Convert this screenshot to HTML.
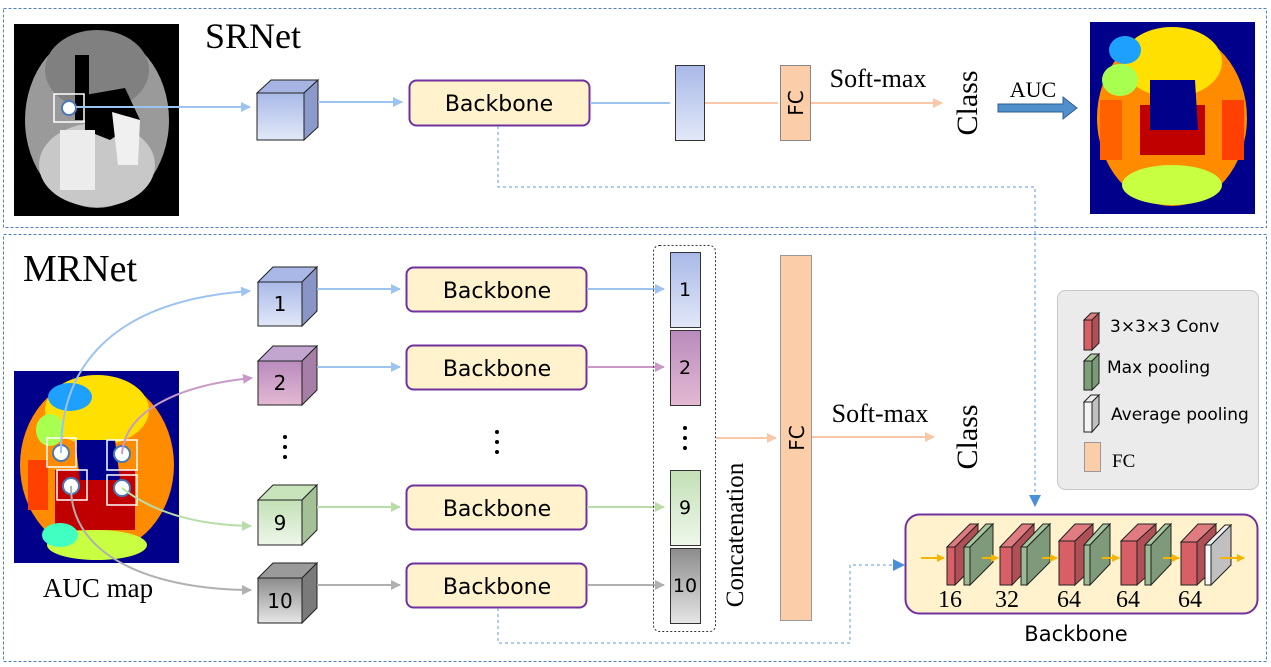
<!DOCTYPE html>
<html><head><meta charset="utf-8"><style>
html,body{margin:0;padding:0;background:#fff}
svg{display:block}
.ser{font-family:"Liberation Serif",serif}
.san{font-family:"DejaVu Sans","Liberation Sans",sans-serif}
</style></head><body>
<svg width="1271" height="667" viewBox="0 0 1271 667" xmlns="http://www.w3.org/2000/svg">
<defs>
<linearGradient id="gb" x1="0" y1="0" x2="0" y2="1"><stop offset="0" stop-color="#a9b9e8"/><stop offset="1" stop-color="#e2e8f8"/></linearGradient>
<linearGradient id="gp" x1="0" y1="0" x2="0" y2="1"><stop offset="0" stop-color="#b98bbd"/><stop offset="1" stop-color="#e3b9d3"/></linearGradient>
<linearGradient id="gg" x1="0" y1="0" x2="0" y2="1"><stop offset="0" stop-color="#c3e0b6"/><stop offset="1" stop-color="#eef7ea"/></linearGradient>
<linearGradient id="gk" x1="0" y1="0" x2="0" y2="1"><stop offset="0" stop-color="#8c8c8c"/><stop offset="1" stop-color="#e6e6e6"/></linearGradient>
<marker id="ab" markerWidth="10" markerHeight="10" refX="9" refY="5" orient="auto" markerUnits="userSpaceOnUse"><path d="M0,0 L10,5 L0,10z" fill="#9dc3f0"/></marker>
<marker id="ap" markerWidth="10" markerHeight="10" refX="9" refY="5" orient="auto" markerUnits="userSpaceOnUse"><path d="M0,0 L10,5 L0,10z" fill="#c99ac8"/></marker>
<marker id="ag" markerWidth="10" markerHeight="10" refX="9" refY="5" orient="auto" markerUnits="userSpaceOnUse"><path d="M0,0 L10,5 L0,10z" fill="#b9dca8"/></marker>
<marker id="ak" markerWidth="10" markerHeight="10" refX="9" refY="5" orient="auto" markerUnits="userSpaceOnUse"><path d="M0,0 L10,5 L0,10z" fill="#b0b0b0"/></marker>
<marker id="ao" markerWidth="10" markerHeight="10" refX="9" refY="5" orient="auto" markerUnits="userSpaceOnUse"><path d="M0,0 L10,5 L0,10z" fill="#f8c8a8"/></marker>
<marker id="ad" markerWidth="12" markerHeight="12" refX="10" refY="6" orient="auto" markerUnits="userSpaceOnUse"><path d="M0,0 L12,6 L0,12z" fill="#4a90d9"/></marker>
<marker id="ay" markerWidth="8" markerHeight="8" refX="7" refY="4" orient="auto" markerUnits="userSpaceOnUse"><path d="M0,0 L8,4 L0,8z" fill="#f5b400"/></marker>
</defs>

<rect x="3.5" y="8.5" width="1263" height="219" fill="none" stroke="#4f81bd" stroke-dasharray="3,2"/>
<rect x="3.5" y="234.5" width="1263" height="427" fill="none" stroke="#4f81bd" stroke-dasharray="3,2"/>

<!-- grayscale brain -->
<rect x="14" y="24" width="165" height="192" fill="#000"/>
<ellipse cx="97" cy="120" rx="72" ry="88" fill="#9a9a9a"/>
<ellipse cx="97" cy="70" rx="52" ry="40" fill="#808080"/>
<ellipse cx="97" cy="165" rx="58" ry="42" fill="#c8c8c8"/>
<rect x="75" y="55" width="14" height="65" fill="#000"/>
<path d="M85,95 L125,88 L140,120 L110,140 L85,130z" fill="#000"/>
<path d="M112,112 L140,120 L138,165 L118,165z" fill="#f0f0f0"/>
<rect x="60" y="130" width="35" height="60" fill="#ececec"/>
<rect x="54" y="94" width="30" height="28" fill="none" stroke="#fff" stroke-width="1.5"/>
<circle cx="69" cy="108" r="7" fill="#fff" stroke="#4a7ab5" stroke-width="2"/>

<text x="205" y="48" class="ser" font-size="36">SRNet</text>

<g stroke="#222" stroke-width="1">
<path d="M257,93 L271,80 L318,80 L304,93z" fill="#a5b4e2"/>
<path d="M304,93 L318,80 L318,127 L304,140z" fill="#8c9acb"/>
<rect x="257" y="93" width="47" height="47" fill="url(#gb)"/>
</g>
<line x1="76" y1="107" x2="250" y2="107" stroke="#9dc3f0" stroke-width="2" marker-end="url(#ab)"/>
<line x1="318" y1="102" x2="402" y2="102" stroke="#9dc3f0" stroke-width="2" marker-end="url(#ab)"/>
<rect x="409.5" y="80.5" width="180" height="45" rx="7" fill="#fff2cc" stroke="#7030a0" stroke-width="2"/>
<text x="499" y="111" text-anchor="middle" class="san" font-size="22">Backbone</text>
<line x1="590" y1="103" x2="670" y2="103" stroke="#9dc3f0" stroke-width="2"/>
<rect x="675.5" y="65.5" width="29" height="75" fill="url(#gb)" stroke="#333"/>
<line x1="705" y1="103" x2="778" y2="103" stroke="#f8c8a8" stroke-width="2"/>
<rect x="780.5" y="65.5" width="30" height="75" fill="#fbcda8" stroke="#888"/>
<text transform="translate(803,103) rotate(-90)" text-anchor="middle" class="san" font-size="20">FC</text>
<text x="878" y="87" text-anchor="middle" class="ser" font-size="26">Soft-max</text>
<line x1="811" y1="103" x2="942" y2="103" stroke="#f8c8a8" stroke-width="2" marker-end="url(#ao)"/>
<text transform="translate(977,103) rotate(-90)" text-anchor="middle" class="ser" font-size="30">Class</text>
<text x="1033" y="97" text-anchor="middle" class="ser" font-size="22">AUC</text>
<path d="M998,104 L1063,104 L1063,97 L1077,108 L1063,119 L1063,112 L998,112z" fill="#4f8fcc" stroke="#2e5f93"/>

<!-- color brain top -->
<g>
<rect x="1090" y="22" width="165" height="192" fill="#00008b"/>
<ellipse cx="1172" cy="118" rx="75" ry="88" fill="#ff8c00"/>
<ellipse cx="1172" cy="62" rx="50" ry="35" fill="#ffe000"/>
<ellipse cx="1125" cy="50" rx="16" ry="14" fill="#1ea0ff"/>
<ellipse cx="1120" cy="80" rx="18" ry="16" fill="#a8ff50"/>
<rect x="1140" y="105" width="65" height="50" fill="#c00000"/>
<path d="M1150,80 L1195,80 L1198,130 L1150,130z" fill="#00008b"/>
<ellipse cx="1172" cy="185" rx="50" ry="20" fill="#c8ff40"/>
<rect x="1100" y="100" width="22" height="60" fill="#ff6000"/>
<rect x="1222" y="100" width="22" height="60" fill="#ff4000"/>
</g>

<path d="M498,126 L498,187 L1035,187 L1035,505" fill="none" stroke="#5b9bd5" stroke-dasharray="3,3" stroke-width="1" marker-end="url(#ad)"/>

<text x="23" y="281" class="ser" font-size="38">MRNet</text>

<!-- color brain bottom -->
<g>
<rect x="14" y="371" width="165" height="192" fill="#00008b"/>
<ellipse cx="97" cy="465" rx="77" ry="88" fill="#ff8c00"/>
<ellipse cx="97" cy="410" rx="52" ry="35" fill="#ffe000"/>
<ellipse cx="70" cy="397" rx="22" ry="14" fill="#1ea0ff"/>
<ellipse cx="50" cy="430" rx="14" ry="16" fill="#a8ff50"/>
<rect x="55" y="470" width="80" height="60" fill="#c00000"/>
<path d="M75,440 L115,440 L120,480 L80,480z" fill="#00008b"/>
<ellipse cx="97" cy="545" rx="50" ry="15" fill="#c8ff40"/>
<ellipse cx="60" cy="535" rx="18" ry="12" fill="#40ffc0"/>
<rect x="28" y="460" width="20" height="50" fill="#ff4000"/>
<g fill="none" stroke="#fff" stroke-width="1.5">
<rect x="47" y="438" width="29" height="29"/><rect x="107" y="440" width="30" height="30"/>
<rect x="57" y="470" width="30" height="30"/><rect x="107" y="475" width="30" height="30"/>
</g>
<g fill="#fff" stroke="#4a7ab5" stroke-width="2">
<circle cx="61" cy="453" r="8"/><circle cx="122" cy="454" r="8"/>
<circle cx="71" cy="486" r="8"/><circle cx="122" cy="488" r="8"/>
</g>
</g>
<text x="98" y="597" text-anchor="middle" class="ser" font-size="27">AUC map</text>

<path d="M61,453 C60,360 120,300 250,291" fill="none" stroke="#9dc3f0" stroke-width="2" marker-end="url(#ab)"/>
<path d="M122,454 C125,410 180,385 252,378" fill="none" stroke="#c99ac8" stroke-width="2" marker-end="url(#ap)"/>
<path d="M122,488 C150,510 190,525 251,526" fill="none" stroke="#b9dca8" stroke-width="2" marker-end="url(#ag)"/>
<path d="M71,486 C70,560 160,590 251,590" fill="none" stroke="#b0b0b0" stroke-width="2" marker-end="url(#ak)"/>

<g stroke="#222" stroke-width="1">
<path d="M258,282 L273,267 L317,267 L302,282z" fill="#a9b8e6"/><path d="M302,282 L317,267 L317,311 L302,326z" fill="#8895c6"/><rect x="258" y="282" width="44" height="44" fill="url(#gb)"/>
<path d="M258,361 L273,346 L317,346 L302,361z" fill="#c2a6d0"/><path d="M302,361 L317,346 L317,390 L302,405z" fill="#a57fa5"/><rect x="258" y="361" width="44" height="44" fill="url(#gp)"/>
<path d="M258,500 L273,485 L317,485 L302,500z" fill="#c8e4bb"/><path d="M302,500 L317,485 L317,530 L302,545z" fill="#a4c096"/><rect x="258" y="500" width="44" height="45" fill="url(#gg)"/>
<path d="M258,578 L273,563 L317,563 L302,578z" fill="#9a9a9a"/><path d="M302,578 L317,563 L317,608 L302,623z" fill="#7a7a7a"/><rect x="258" y="578" width="44" height="45" fill="url(#gk)"/>
</g>
<g class="san" font-size="20" text-anchor="middle">
<text x="280" y="311">1</text><text x="280" y="390">2</text><text x="280" y="530">9</text><text x="280" y="608">10</text>
</g>
<g fill="#000"><circle cx="285" cy="437" r="2"/><circle cx="285" cy="447" r="2"/><circle cx="285" cy="457" r="2"/>
<circle cx="497" cy="432" r="2"/><circle cx="497" cy="442" r="2"/><circle cx="497" cy="452" r="2"/>
<circle cx="685" cy="428" r="2"/><circle cx="685" cy="438" r="2"/><circle cx="685" cy="448" r="2"/></g>

<line x1="317" y1="289" x2="400" y2="289" stroke="#9dc3f0" stroke-width="2" marker-end="url(#ab)"/>
<line x1="317" y1="367" x2="400" y2="367" stroke="#9dc3f0" stroke-width="2" marker-end="url(#ab)"/>
<line x1="317" y1="507" x2="400" y2="507" stroke="#b9dca8" stroke-width="2" marker-end="url(#ag)"/>
<line x1="317" y1="585" x2="400" y2="585" stroke="#b0b0b0" stroke-width="2" marker-end="url(#ak)"/>

<g fill="#fff2cc" stroke="#7030a0" stroke-width="2">
<rect x="406.5" y="267.5" width="180" height="44" rx="7"/>
<rect x="406.5" y="345.5" width="180" height="44" rx="7"/>
<rect x="406.5" y="485.5" width="180" height="44" rx="7"/>
<rect x="406.5" y="563.5" width="180" height="44" rx="7"/>
</g>
<g class="san" font-size="22" text-anchor="middle">
<text x="497" y="298">Backbone</text><text x="497" y="376">Backbone</text><text x="497" y="516">Backbone</text><text x="497" y="594">Backbone</text>
</g>

<line x1="587" y1="289" x2="664" y2="289" stroke="#9dc3f0" stroke-width="2" marker-end="url(#ab)"/>
<line x1="587" y1="367" x2="664" y2="367" stroke="#c99ac8" stroke-width="2" marker-end="url(#ap)"/>
<line x1="587" y1="507" x2="664" y2="507" stroke="#b9dca8" stroke-width="2" marker-end="url(#ag)"/>
<line x1="587" y1="585" x2="664" y2="585" stroke="#b0b0b0" stroke-width="2" marker-end="url(#ak)"/>

<rect x="653.5" y="245.5" width="62" height="386" rx="6" fill="none" stroke="#333" stroke-dasharray="2,2"/>
<g stroke="#333">
<rect x="670.5" y="252.5" width="30" height="75" fill="url(#gb)"/>
<rect x="670.5" y="330.5" width="30" height="75" fill="url(#gp)"/>
<rect x="670.5" y="470.5" width="30" height="75" fill="url(#gg)"/>
<rect x="670.5" y="548.5" width="30" height="75" fill="url(#gk)"/>
</g>
<g class="san" font-size="19" text-anchor="middle">
<text x="685" y="296">1</text><text x="685" y="374">2</text><text x="685" y="514">9</text><text x="685" y="592">10</text>
</g>
<text transform="translate(743,535) rotate(-90)" text-anchor="middle" class="ser" font-size="25">Concatenation</text>
<line x1="716" y1="438" x2="776" y2="438" stroke="#f8c8a8" stroke-width="2" marker-end="url(#ao)"/>
<rect x="780.5" y="255.5" width="31" height="365" fill="#fbcda8" stroke="#999"/>
<text transform="translate(804,438) rotate(-90)" text-anchor="middle" class="san" font-size="20">FC</text>
<text x="880" y="422" text-anchor="middle" class="ser" font-size="26">Soft-max</text>
<line x1="812" y1="437" x2="934" y2="437" stroke="#f8c8a8" stroke-width="2" marker-end="url(#ao)"/>
<text transform="translate(977,437) rotate(-90)" text-anchor="middle" class="ser" font-size="30">Class</text>

<rect x="1057.5" y="290.5" width="201" height="199" rx="8" fill="#ebebeb" stroke="#c8c8c8"/>
<g stroke="#222" stroke-width="1">
<path d="M1084,320 L1091,313 L1099,313 L1092,320z" fill="#e07b80"/><path d="M1092,320 L1099,313 L1099,343 L1092,350z" fill="#b05056"/><rect x="1084" y="320" width="8" height="30" fill="#d95f66"/>
<path d="M1084,361 L1091,354 L1099,354 L1092,361z" fill="#a8c8a0"/><path d="M1092,361 L1099,354 L1099,383 L1092,390z" fill="#7a9a78"/><rect x="1084" y="361" width="8" height="29" fill="#7f9f7a"/>
<path d="M1084,402 L1091,395 L1099,395 L1092,402z" fill="#eee"/><path d="M1092,402 L1099,395 L1099,424 L1092,432z" fill="#c0c0c0"/><rect x="1084" y="402" width="8" height="30" fill="#f4f4f4"/>
</g>
<rect x="1084.5" y="442.5" width="16" height="29" fill="#fbcda8" stroke="#999"/>
<g class="san" font-size="17">
<text x="1110" y="332">3×3×3 Conv</text>
<text x="1107" y="373">Max pooling</text>
<text x="1111" y="420">Average pooling</text>
</g>
<text x="1112" y="467" class="ser" font-size="19">FC</text>

<rect x="905.5" y="514.5" width="352" height="99" rx="14" fill="#fff2cc" stroke="#7030a0" stroke-width="2"/>
<path d="M498,608 L498,643 L850,643 L850,565 L903,565" fill="none" stroke="#5b9bd5" stroke-dasharray="3,3" marker-end="url(#ad)"/>
<g stroke="#222" stroke-width="1">
<path d="M947,547 L970,524 L978,524 L955,547z" fill="#e07b80"/><path d="M955,547 L978,524 L978,562 L955,585z" fill="#b05056"/><rect x="947" y="547" width="8" height="38" fill="#d95f66"/>
<path d="M964,547 L986,524 L993,524 L970,547z" fill="#a8c8a0"/><path d="M970,547 L993,524 L993,562 L970,585z" fill="#7f9a7a"/><rect x="964" y="547" width="6" height="38" fill="#9bba94"/>
<path d="M1000,547 L1022,524 L1034,524 L1012,547z" fill="#e07b80"/><path d="M1012,547 L1034,524 L1034,562 L1012,585z" fill="#b05056"/><rect x="1000" y="547" width="12" height="38" fill="#d95f66"/>
<path d="M1021,547 L1043,524 L1050,524 L1027,547z" fill="#a8c8a0"/><path d="M1027,547 L1050,524 L1050,562 L1027,585z" fill="#7f9a7a"/><rect x="1021" y="547" width="6" height="38" fill="#9bba94"/>
<path d="M1059,541 L1075,524 L1093,524 L1075,541z" fill="#e07b80"/><path d="M1075,541 L1093,524 L1093,568 L1075,585z" fill="#b05056"/><rect x="1059" y="541" width="16" height="44" fill="#d95f66"/>
<path d="M1084,545 L1103,524 L1110,524 L1090,545z" fill="#a8c8a0"/><path d="M1090,545 L1110,524 L1110,564 L1090,585z" fill="#7f9a7a"/><rect x="1084" y="545" width="6" height="40" fill="#9bba94"/>
<path d="M1121,541 L1138,524 L1156,524 L1137,541z" fill="#e07b80"/><path d="M1137,541 L1156,524 L1156,568 L1137,585z" fill="#b05056"/><rect x="1121" y="541" width="16" height="44" fill="#d95f66"/>
<path d="M1145,545 L1165,524 L1171,524 L1151,545z" fill="#a8c8a0"/><path d="M1151,545 L1171,524 L1171,564 L1151,585z" fill="#7f9a7a"/><rect x="1145" y="545" width="6" height="40" fill="#9bba94"/>
<path d="M1181,542 L1198,524 L1216,524 L1197,542z" fill="#e07b80"/><path d="M1197,542 L1216,524 L1216,567 L1197,585z" fill="#b05056"/><rect x="1181" y="542" width="16" height="43" fill="#d95f66"/>
<path d="M1205,545 L1225,525 L1231,525 L1211,545z" fill="#f0f0f0"/><path d="M1211,545 L1231,525 L1231,565 L1211,585z" fill="#c0c0c0"/><rect x="1205" y="545" width="6" height="40" fill="#fafafa"/>
</g>
<g stroke="#f5b400" stroke-width="2">
<line x1="921" y1="558" x2="944" y2="558" marker-end="url(#ay)"/>
<line x1="982" y1="558" x2="998" y2="558" marker-end="url(#ay)"/>
<line x1="1042" y1="558" x2="1057" y2="558" marker-end="url(#ay)"/>
<line x1="1102" y1="558" x2="1119" y2="558" marker-end="url(#ay)"/>
<line x1="1163" y1="558" x2="1179" y2="558" marker-end="url(#ay)"/>
<line x1="1220" y1="558" x2="1244" y2="558" marker-end="url(#ay)"/>
</g>
<g class="ser" font-size="24" text-anchor="middle">
<text x="950" y="607">16</text><text x="1007" y="607">32</text><text x="1069" y="607">64</text><text x="1128" y="607">64</text><text x="1190" y="607">64</text>
</g>
<text x="1076" y="641" text-anchor="middle" class="san" font-size="21">Backbone</text>
</svg>
</body></html>
